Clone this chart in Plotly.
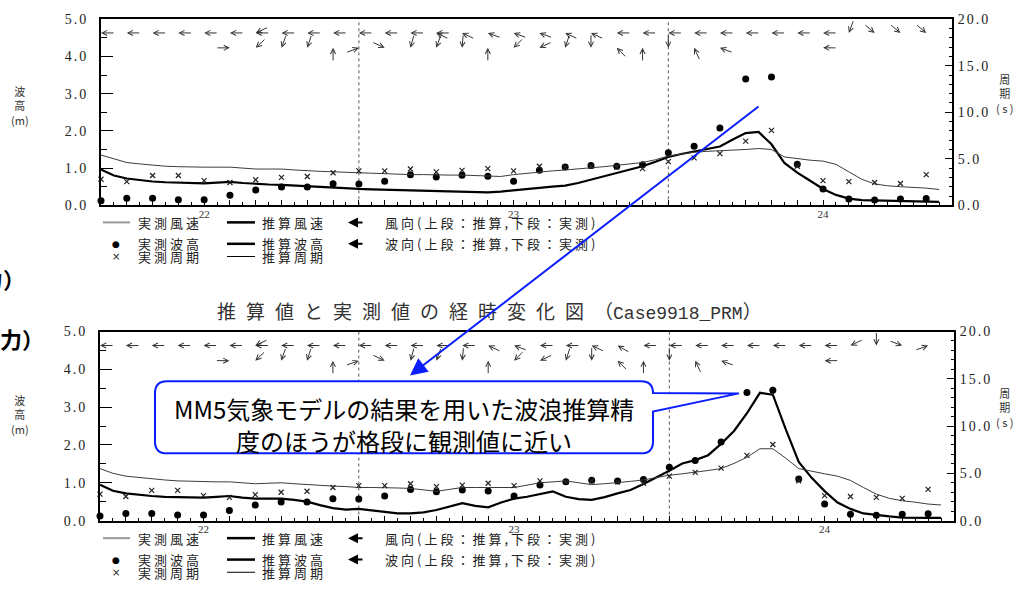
import math
import plotly.graph_objects as go

W, H = 1029, 590

# ---------------- data ----------------
# time axis: hours counted from day 22, 00:00
hours_obs = list(range(-8, 57, 2))
hours_est = list(range(-8, 58))
day_ticks = [0, 24, 48]
day_labels = ["22", "23", "24"]
height_ticks = [0, 1, 2, 3, 4, 5]
period_ticks = [0, 5, 10, 15, 20]

# observed significant wave height (m) and period (s)
obs_height = [0.12, 0.19, 0.19, 0.15, 0.15, 0.27, 0.41, 0.49, 0.49, 0.58,
              0.57, 0.65, 0.82, 0.76, 0.81, 0.78, 0.65, 0.94, 1.03, 1.07,
              1.05, 1.09, 1.41, 1.59, 2.08, 3.39, 3.45, 1.10, 0.44, 0.17,
              0.14, 0.17, 0.18]
obs_period = [2.8, 2.55, 3.2, 3.2, 2.65, 2.45, 2.75, 3.0, 3.1, 3.5,
              3.7, 3.7, 3.9, 3.6, 3.75, 3.95, 3.7, 4.2, 4.1, 4.2,
              4.1, 3.95, 4.7, 5.1, 5.55, 6.9, 8.05, 4.2, 2.65, 2.55,
              2.45, 2.35, 3.3]

# hindcast, upper chart
est_height_prev = [0.96, 0.80, 0.72, 0.67, 0.64, 0.62, 0.61, 0.60, 0.59, 0.61,
                   0.63, 0.60, 0.57, 0.56, 0.55, 0.53, 0.50, 0.48, 0.47, 0.45,
                   0.44, 0.43, 0.42, 0.41, 0.41, 0.40, 0.39, 0.38, 0.37, 0.36,
                   0.35, 0.37, 0.41, 0.44, 0.47, 0.50, 0.53, 0.60, 0.69, 0.77,
                   0.86, 0.95, 1.05, 1.17, 1.30, 1.38, 1.44, 1.50, 1.58, 1.77,
                   1.94, 1.97, 1.64, 1.14, 0.88, 0.66, 0.44, 0.28, 0.18, 0.14,
                   0.13, 0.12, 0.11, 0.11, 0.10, 0.09]
est_period_prev = [5.4, 5.0, 4.6, 4.45, 4.3, 4.2, 4.15, 4.1, 4.1, 4.1,
                   4.1, 4.0, 3.9, 3.9, 3.9, 3.8, 3.7, 3.65, 3.6, 3.55,
                   3.45, 3.45, 3.4, 3.35, 3.3, 3.3, 3.25, 3.25, 3.25, 3.2,
                   3.15, 3.1, 3.3, 3.45, 3.6, 3.7, 3.8, 3.9, 4.0, 4.15,
                   4.3, 4.45, 4.6, 4.9, 5.3, 5.5, 5.7, 5.8, 5.85, 5.95,
                   6.0, 6.1, 6.0, 5.2, 5.0, 4.85, 4.75, 4.4, 3.6, 2.8,
                   2.3, 2.1, 2.0, 1.95, 1.85, 1.7]

# hindcast driven by the MM5 model, lower chart
est_height_mm5 = [0.95, 0.79, 0.72, 0.68, 0.65, 0.63, 0.62, 0.61, 0.61, 0.63,
                  0.65, 0.61, 0.58, 0.58, 0.58, 0.55, 0.50, 0.41, 0.33, 0.29,
                  0.31, 0.27, 0.23, 0.19, 0.19, 0.22, 0.28, 0.37, 0.46, 0.39,
                  0.35, 0.48, 0.58, 0.63, 0.70, 0.77, 0.63, 0.57, 0.55, 0.62,
                  0.72, 0.81, 0.97, 1.14, 1.32, 1.51, 1.60, 1.73, 2.03, 2.37,
                  2.84, 3.38, 3.33, 2.41, 1.55, 1.13, 0.78, 0.48, 0.31, 0.19,
                  0.14, 0.11, 0.08, 0.07, 0.07, 0.07]
est_period_mm5 = [5.5, 5.0, 4.7, 4.55, 4.4, 4.3, 4.2, 4.15, 4.15, 4.1,
                  4.1, 4.0, 3.9, 3.95, 4.0, 3.9, 3.8, 3.7, 3.65, 3.6,
                  3.5, 3.5, 3.5, 3.45, 3.4, 3.25, 3.1, 3.3, 3.5, 3.5,
                  3.5, 3.5, 3.5, 3.75, 4.0, 4.1, 4.2, 4.0, 3.8, 3.9,
                  4.0, 4.15, 4.3, 4.55, 4.8, 4.95, 5.1, 5.3, 5.5, 6.05,
                  6.7, 7.6, 7.6, 6.6, 5.5, 5.2, 4.95, 4.7, 4.25, 3.5,
                  2.8, 2.35, 2.1, 1.95, 1.75, 1.65]

# directions in degrees (0 = towards east, counter-clockwise); None = missing
obs_dir = [None, None, None, None, None, 0, 223, 250, 252, 90,
           20, 335, 255, 250, 265, 90, 225, 205, 252, 270,
           135, 90, 270, 115, 160, None, None, None, 180, None,
           None, None, None]
est_dir_prev = [180] * 13 + [180, 155, 160, 160, 160, 155, 155] + [180] * 9 + [250, 320, 320, 320]
est_dir_prev_2 = [None] * 6 + [205] + [None] * 6 + [155] + [None] * 19
est_dir_mm5 = [180] * 15 + [155, 160, 180, 180, 155, 150] + [180] * 8 + [205, 270, 340, 20]
est_dir_mm5_2 = [None] * 6 + [205] + [None] * 26

marked_hours = [12, 36]
peak_note_hour = 42

# ---------------- helpers ----------------
SERIF = "Liberation Serif"
JP = "Noto Sans CJK JP"
BLUE = "#0a1eff"


def px(x):
    return x / W


def py(y):
    return 1 - y / H


def spaced(text, gap):
    return f"<span style='letter-spacing:{gap}px'>{text}</span>"


def note(x, y, text, font, xanchor="center", yanchor="middle"):
    return dict(x=px(x), y=py(y), xref="paper", yref="paper", text=text, showarrow=False,
                xanchor=xanchor, yanchor=yanchor, font=font)


panels = [
    dict(xd=(101, 952), yd=(12.5, 203.5), xa="x", ya="y", ya2="y2",
         h=est_height_prev, t=est_period_prev, d1=est_dir_prev, d2=est_dir_prev_2,
         leg=221, ytitle=101, ytitle2=89),
    dict(xd=(100, 954), yd=(333, 527), xa="x2", ya="y3", ya2="y4",
         h=est_height_mm5, t=est_period_mm5, d1=est_dir_mm5, d2=est_dir_mm5_2,
         leg=545, ytitle=418, ytitle2=411),
]

fig = go.Figure()
shapes, annotations = [], []
layout_axes = {}

for i, p in enumerate(panels):
    xa, ya, ya2 = p["xa"], p["ya"], p["ya2"]
    xkey = "xaxis" if xa == "x" else "xaxis" + xa[1:]
    ykey = "yaxis" if ya == "y" else "yaxis" + ya[1:]
    y2key = "yaxis" + ya2[1:]
    xdom = [px(p["xd"][0]), px(p["xd"][1])]
    ydom = [py(p["yd"][1]), py(p["yd"][0])]

    layout_axes[xkey] = dict(
        domain=xdom, anchor=ya, range=[-8, 58], showgrid=False, zeroline=False,
        showline=True, linecolor="black", linewidth=2, mirror=True,
        tickmode="array", tickvals=list(range(-8, 59, 2)),
        ticktext=[day_labels[day_ticks.index(v)] if v in day_ticks else "" for v in range(-8, 59, 2)],
        ticks="inside", ticklen=5, tickwidth=1, tickcolor="black",
        minor=dict(tickmode="array", tickvals=list(range(-7, 58, 2)), ticks="inside",
                   ticklen=3, tickwidth=1, tickcolor="black"),
        ticklabelstandoff=-3,
        tickfont=dict(family=SERIF, size=11, color="#333"), fixedrange=True)
    layout_axes[ykey] = dict(
        domain=ydom, anchor=xa, range=[0, 5], showgrid=False, zeroline=False,
        showline=True, linecolor="black", linewidth=2, side="left",
        tickmode="array", tickvals=height_ticks,
        ticktext=[spaced(f"{v:.1f}", 2) for v in height_ticks],
        ticks="inside", ticklen=12, tickwidth=1, tickcolor="black",
        minor=dict(tickmode="array", tickvals=[v + 0.5 for v in height_ticks[:-1]],
                   ticks="inside", ticklen=6, tickwidth=1, tickcolor="black"),
        ticklabelstandoff=8,
        tickfont=dict(family=SERIF, size=14, color="#222"), fixedrange=True)
    layout_axes[y2key] = dict(
        domain=ydom, anchor=xa, overlaying=ya, side="right", range=[0, 20],
        showgrid=False, zeroline=False, showline=True, linecolor="black", linewidth=2,
        tickmode="array", tickvals=period_ticks,
        ticktext=[spaced(f"{v:.1f}", 2) for v in period_ticks],
        ticks="inside", ticklen=7, tickwidth=1, tickcolor="black",
        minor=dict(tickmode="array", tickvals=[v for v in range(21) if v % 5],
                   ticks="inside", ticklen=3, tickwidth=1, tickcolor="black"),
        ticklabelstandoff=1,
        tickfont=dict(family=SERIF, size=14, color="#222"), fixedrange=True)

    # hindcast wave height (thick) and observed wave height (dots)
    fig.add_trace(go.Scatter(x=hours_est, y=p["h"], xaxis=xa, yaxis=ya, mode="lines",
                             line=dict(color="black", width=2.2), showlegend=False))
    fig.add_trace(go.Scatter(x=hours_obs, y=obs_height, xaxis=xa, yaxis=ya, mode="markers",
                             marker=dict(symbol="circle", size=7, color="black"),
                             cliponaxis=False, showlegend=False))
    # hindcast period (thin) and observed period (crosses)
    fig.add_trace(go.Scatter(x=hours_est, y=p["t"], xaxis=xa, yaxis=ya2, mode="lines",
                             line=dict(color="#3c3c3c", width=1), showlegend=False))
    fig.add_trace(go.Scatter(x=hours_obs, y=obs_period, xaxis=xa, yaxis=ya2, mode="markers",
                             marker=dict(symbol="x-thin-open", size=5, color="#222",
                                         line=dict(color="#222", width=1.2)),
                             cliponaxis=False, showlegend=False))

    # dotted time markers
    for hr in marked_hours:
        shapes.append(dict(type="line", xref=xa, yref=f"{ya} domain", x0=hr, x1=hr, y0=0, y1=1,
                           line=dict(color="#555", width=1, dash="dot"), layer="below"))

    # direction arrows: upper row hindcast, lower row observed
    def dir_arrow(hr, level, deg, length=14):
        r = math.radians(deg)
        return dict(x=hr, y=level, xref=xa, yref=ya, text="", showarrow=True,
                    ax=-length * math.cos(r), ay=length * math.sin(r),
                    axref="pixel", ayref="pixel", arrowhead=5, arrowsize=1,
                    arrowwidth=1, arrowcolor="#333")

    for hr, a, b, c in zip(hours_obs, p["d1"], p["d2"], obs_dir):
        if a is not None:
            annotations.append(dir_arrow(hr, 4.63, a))
        if b is not None:
            annotations.append(dir_arrow(hr, 4.63, b))
        if c is not None:
            annotations.append(dir_arrow(hr, 4.23, c))

    # axis titles
    title_font = dict(family=JP, size=11, color="#333")
    annotations.append(note(20, p["ytitle"], "波<br>高<br>(m)", title_font))
    annotations.append(note(1005, p["ytitle2"], "周<br>期<br>( s )", title_font))

    # key below each chart
    r1, r2, r3 = p["leg"], p["leg"] + 22, p["leg"] + 35
    key_font = dict(family=JP, size=13, color="#222")
    for y_row, x0, x1, col, wdt in [(r1, 103, 130, "#999", 2), (r1, 227, 255, "black", 2.5),
                                    (r2, 227, 255, "black", 2.5), (r3, 227, 255, "black", 1)]:
        shapes.append(dict(type="line", xref="paper", yref="paper", x0=px(x0), x1=px(x1),
                           y0=py(y_row), y1=py(y_row), line=dict(color=col, width=wdt)))
    annotations.append(note(116, r2, "●", dict(family="DejaVu Sans", size=9, color="black")))
    annotations.append(note(116, r3, "×", dict(family="DejaVu Sans", size=10, color="#222")))
    for y_row, x0, label in [(r1, 136, "実測風速"), (r1, 260, "推算風速"),
                             (r2, 136, "実測波高"), (r2, 260, "推算波高"),
                             (r3, 136, "実測周期"), (r3, 260, "推算周期"),
                             (r1, 383, "風向(上段：推算,下段：実測)"),
                             (r2, 383, "波向(上段：推算,下段：実測)")]:
        annotations.append(note(x0, y_row, spaced(label, 3), key_font, xanchor="left"))
    for y_row in (r1, r2):
        annotations.append(dict(x=px(348), y=py(y_row), xref="paper", yref="paper", text="",
                                showarrow=True, ax=16, ay=0, arrowhead=2, arrowsize=1,
                                arrowwidth=2, arrowcolor="black"))

# chart title
annotations.append(note(
    215, 311,
    spaced("推算値と実測値の経時変化図", 10) + "（"
    + "<span style='font-family:Liberation Mono;font-size:18px'>Case9918_PRM</span>）",
    dict(family=JP, size=19, color="#333"), xanchor="left"))

# partially visible slide captions at the left edge
for x0, yc in [(-21, 278), (-2, 340)]:
    annotations.append(note(x0, yc, "<b>力）</b>", dict(family=JP, size=22, color="black"),
                            xanchor="left"))

# callout box pointing at the observed peak in the lower chart
bp = panels[1]
k = hours_obs.index(peak_note_hour)
tip_x = bp["xd"][0] + (peak_note_hour + 8) / 66 * (bp["xd"][1] - bp["xd"][0]) - 8
tip_y = bp["yd"][1] - obs_height[k] / 5 * (bp["yd"][1] - bp["yd"][0]) + 1
L, R, T, B, rad = 155, 653, 384, 458, 12


def P(x, y):
    return f"{px(x):.5f},{py(y):.5f}"


path = (f"M{P(L + rad, T)} L{P(R - rad, T)} Q{P(R, T)} {P(R, T + rad)} "
        f"L{P(tip_x, tip_y)} L{P(R, T + 31)} L{P(R, B - rad)} Q{P(R, B)} {P(R - rad, B)} "
        f"L{P(L + rad, B)} Q{P(L, B)} {P(L, B - rad)} L{P(L, T + rad)} Q{P(L, T)} {P(L + rad, T)} Z")
shapes.append(dict(type="path", xref="paper", yref="paper", path=path,
                   fillcolor="white", line=dict(color=BLUE, width=2), layer="above"))
for yc, line_text in [(412, "MM5気象モデルの結果を用いた波浪推算精"), (445, "度のほうが格段に観測値に近い")]:
    annotations.append(note((L + R) / 2, yc, line_text, dict(family=JP, size=24, color="black")))

# blue pointer from the upper chart to the callout
annotations.append(dict(x=px(410), y=py(378), xref="paper", yref="paper", text="",
                        showarrow=True, ax=350, ay=-270, axref="pixel", ayref="pixel",
                        arrowhead=2, arrowsize=1.7, arrowwidth=2, arrowcolor=BLUE))

fig.update_layout(
    width=W, height=H, margin=dict(l=0, r=0, t=0, b=0),
    paper_bgcolor="white", plot_bgcolor="white", showlegend=False,
    shapes=shapes, annotations=annotations, **layout_axes)

fig.write_html("out.html", config={"displayModeBar": False})
